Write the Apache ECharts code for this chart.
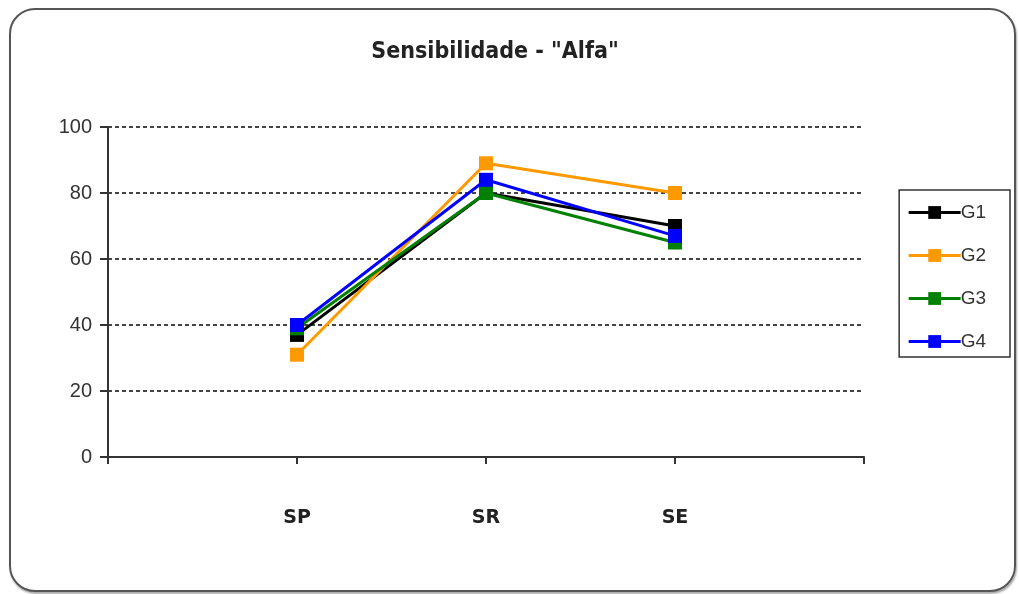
<!DOCTYPE html>
<html>
<head>
<meta charset="utf-8">
<script src="https://cdn.jsdelivr.net/npm/echarts@6/dist/echarts.min.js"></script>
<style>
html,body{margin:0;padding:0;background:#fff;}
#frame{position:absolute;left:9px;top:8px;width:1003px;height:580px;border:2px solid #555;border-radius:26px;box-shadow:1px 2px 2px #aaa;}
#chart{position:absolute;left:0;top:0;width:1019px;height:594px;}
</style>
</head>
<body>
<div id="frame"></div>
<div id="chart"></div>
<script>
var categories = ['', 'SP', 'SR', 'SE', ''];
var seriesNames = ['G1', 'G2', 'G3', 'G4'];
var g1 = [null, 37, 80, 70, null];
var g2 = [null, 31, 89, 80, null];
var g3 = [null, 39, 80, 65, null];
var g4 = [null, 40, 84, 67, null];
var yTicks = [0, 20, 40, 60, 80, 100];
var colors = ['#000000', '#FF9900', '#008000', '#0000FF'];
var values = [g1, g2, g3, g4];

var chart = echarts.init(document.getElementById('chart'));
chart.setOption({
  animation: false,
  color: colors,
  title: {
    text: 'Sensibilidade - "Alfa"',
    left: 490, top: 36, textAlign: 'center',
    textStyle: {fontFamily: '"DejaVu Sans Condensed", "DejaVu Sans", Arial', fontSize: 23, fontWeight: 'bold', color: '#222'}
  },
  legend: {
    orient: 'vertical',
    right: 9, top: 190,
    padding: [13, 24, 6, 8],
    itemGap: 24,
    itemWidth: 52, itemHeight: 16,
    borderColor: '#333', borderWidth: 1.5,
    lineStyle: {width: 3},
    textStyle: {fontFamily: 'Arial, "Liberation Sans"', fontSize: 19, color: '#333', padding: [0, 0, 0, -5]},
    data: seriesNames
  },
  grid: {left: 108, right: 155, top: 127, bottom: 137},
  xAxis: {
    type: 'category',
    data: categories,
    boundaryGap: false,
    axisLine: {lineStyle: {color: '#333', width: 2}},
    axisTick: {show: true, length: 7, lineStyle: {color: '#333', width: 2}},
    axisLabel: {margin: 52, fontFamily: '"DejaVu Sans", Arial', fontWeight: 'bold', fontSize: 19, color: '#222', interval: 0},
    splitLine: {show: false}
  },
  yAxis: {
    type: 'value',
    min: yTicks[0], max: yTicks[yTicks.length - 1], interval: 20,
    axisLine: {show: true, lineStyle: {color: '#333', width: 2}},
    axisTick: {show: true, inside: false, length: 8, lineStyle: {color: '#333', width: 2}},
    axisLabel: {margin: 16, fontFamily: 'Arial, "Liberation Sans"', fontSize: 20, color: '#333'},
    splitLine: {show: true, lineStyle: {color: '#444', type: [4, 3], width: 2}}
  },
  series: seriesNames.map(function (n, i) {
    return {
      name: n,
      type: 'line',
      data: values[i],
      symbol: 'rect',
      symbolSize: 14,
      showAllSymbol: true,
      lineStyle: {width: 3, color: colors[i]},
      itemStyle: {color: colors[i]}
    };
  })
});
</script>
</body>
</html>
